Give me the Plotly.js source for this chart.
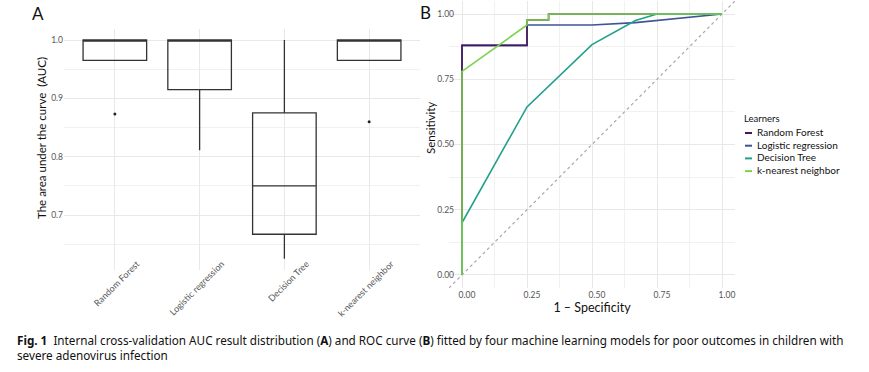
<!DOCTYPE html>
<html>
<head>
<meta charset="utf-8">
<script src="https://cdn.plot.ly/plotly-3.0.1.min.js"></script>
<style>html,body{margin:0;padding:0;background:#fff;}</style>
</head>
<body>
<div id="chart" style="width:869px;height:372px;"></div>
<script>
// ---------- Panel A: AUC distribution (box summaries) ----------
const learners = ['Random Forest', 'Logistic regression', 'Decision Tree', 'k-nearest neighbor'];
const aucQ1 = [0.965, 0.915, 0.667, 0.965];
const aucMedian = [1.0, 1.0, 0.75, 1.0];
const aucQ3 = [1.0, 1.0, 0.875, 1.0];
const aucLowerFence = [0.965, 0.811, 0.625, 0.965];
const aucUpperFence = [1.0, 1.0, 1.0, 1.0];
const outlierLearners = ['Random Forest', 'k-nearest neighbor'];
const outlierAUC = [0.873, 0.860];
const aucTicks = [0.7, 0.8, 0.9, 1.0];

// ---------- Panel B: ROC curves ----------
const rfFPR  = [0, 0, 0.25, 0.25, 0.333, 0.333, 1];
const rfTPR  = [0, 0.88, 0.88, 0.977, 0.977, 1, 1];
const lrFPR  = [0, 0, 0.25, 0.25, 0.5, 0.667, 1];
const lrTPR  = [0, 0.88, 0.88, 0.958, 0.958, 0.967, 1];
const dtFPR  = [0, 0, 0.25, 0.5, 0.667, 0.75, 1];
const dtTPR  = [0, 0.2, 0.644, 0.883, 0.975, 1, 1];
const knnFPR = [0, 0, 0.25, 0.25, 0.333, 0.333, 1];
const knnTPR = [0, 0.78, 0.958, 0.977, 0.977, 1, 1];
const rocTicks = [0, 0.25, 0.5, 0.75, 1];
const rocTickLabels = ['0.00', '0.25', '0.50', '0.75', '1.00'];
const learnerColors = ['#46165f', '#3d5597', '#22a08a', '#7cd250'];

const W = 869, H = 372;
const px = v => v / W;
const py = v => 1 - v / H;
const FONT = 'Lato, "Open Sans", sans-serif';
const TICKFONT = {family: FONT, size: 8.5, color: '#555555'};
const GRID = '#e8e8e8';
const MINORGRID = '#f1f1f1';

const rocSeries = [
  {name: learners[0], x: rfFPR, y: rfTPR, color: learnerColors[0]},
  {name: learners[1], x: lrFPR, y: lrTPR, color: learnerColors[1]},
  {name: learners[2], x: dtFPR, y: dtTPR, color: learnerColors[2]},
  {name: learners[3], x: knnFPR, y: knnTPR, color: learnerColors[3]}
];
// drawing order: Logistic regression beneath Random Forest
const drawOrder = [1, 0, 2, 3];

const traces = [
  {
    type: 'box', xaxis: 'x', yaxis: 'y',
    x: learners, q1: aucQ1, median: aucMedian, q3: aucQ3,
    lowerfence: aucLowerFence, upperfence: aucUpperFence,
    width: 0.75, whiskerwidth: 0, boxpoints: false,
    fillcolor: 'rgba(255,255,255,0)',
    line: {color: '#333333', width: 1.3},
    hoverinfo: 'skip', showlegend: false
  },
  {
    type: 'scatter', mode: 'markers', xaxis: 'x', yaxis: 'y',
    x: outlierLearners, y: outlierAUC,
    marker: {color: '#222222', size: 3},
    hoverinfo: 'skip', showlegend: false
  }
];
drawOrder.forEach(i => {
  const s = rocSeries[i];
  traces.push({
    type: 'scatter', mode: 'lines', xaxis: 'x2', yaxis: 'y2',
    x: s.x, y: s.y, name: s.name,
    line: {color: s.color, width: 1.6, shape: 'linear'},
    hoverinfo: 'skip', showlegend: false
  });
});

const rocRange = [-0.05, 1.05];

function note(text, x, y, font, extra) {
  return Object.assign({
    text: text, x: px(x), y: py(y), xref: 'paper', yref: 'paper',
    xanchor: 'center', yanchor: 'middle', showarrow: false, font: font
  }, extra || {});
}

const annotations = [
  note('A', 38, 14, {family: FONT, size: 17, color: '#111'}),
  note('B', 425, 13, {family: FONT, size: 17, color: '#111'}),
  note('The area under the curve  (AUC)', 41, 138, {family: FONT, size: 11.5, color: '#111'}, {textangle: -90}),
  note('Sensitivity', 430, 128, {family: FONT, size: 11.5, color: '#111'}, {textangle: -90}),
  note('Learners', 742, 119, {family: FONT, size: 9.5, color: '#111'}, {xanchor: 'left'}),
  note('<b>Fig. 1</b>  Internal cross-validation AUC result distribution (<b>A</b>) and ROC curve (<b>B</b>) fitted by four machine learning models for poor outcomes in children with<br>severe adenovirus infection',
       15, 347, {family: '"Noto Sans", "Liberation Sans", sans-serif', size: 11.7, color: '#111'}, {xanchor: 'left', align: 'left'})
];
const legendShapes = [];
rocSeries.forEach((s, i) => {
  const yy = 132 + i * 12.7;
  annotations.push(note(s.name, 755, yy, {family: FONT, size: 10, color: '#111'}, {xanchor: 'left'}));
  legendShapes.push({
    type: 'line', xref: 'paper', yref: 'paper',
    x0: px(745), x1: px(752), y0: py(yy + 1), y1: py(yy + 1),
    line: {color: s.color, width: 2}
  });
});

const layout = {
  width: W, height: H,
  margin: {l: 0, r: 0, t: 0, b: 0},
  paper_bgcolor: '#ffffff', plot_bgcolor: '#ffffff',
  showlegend: false,
  xaxis: {
    domain: [px(64), px(420)], anchor: 'y',
    type: 'category', categoryorder: 'array', categoryarray: learners,
    range: [-0.6, 3.6], showgrid: true, gridcolor: GRID, gridwidth: 1,
    zeroline: false, showline: false, ticks: '',
    tickangle: -45, tickfont: {family: FONT, size: 9, color: '#555555'},
    ticklabelshift: 22, ticklabelstandoff: -14
  },
  yaxis: {
    domain: [py(270), py(29)], anchor: 'x',
    range: [0.6057, 1.0189], tickvals: aucTicks, tickformat: '.1f',
    showgrid: true, gridcolor: GRID, gridwidth: 1,
    minor: {dtick: 0.05, tick0: 0, showgrid: true, gridcolor: MINORGRID, gridwidth: 1},
    zeroline: false, showline: false, ticks: '', tickfont: TICKFONT
  },
  xaxis2: {
    domain: [px(449), px(735)], anchor: 'y2',
    range: rocRange, tickvals: rocTicks, ticktext: rocTickLabels,
    showgrid: true, gridcolor: GRID, gridwidth: 1,
    minor: {dtick: 0.125, tick0: 0, showgrid: true, gridcolor: MINORGRID, gridwidth: 1},
    zeroline: false, showline: false, ticks: '', tickfont: TICKFONT, ticklabelshift: 5,
    title: {text: '1 – Specificity', font: {family: FONT, size: 12.5, color: '#111'}, standoff: 2}
  },
  yaxis2: {
    domain: [py(288), py(1)], anchor: 'x2',
    range: rocRange, tickvals: rocTicks, ticktext: rocTickLabels,
    showgrid: true, gridcolor: GRID, gridwidth: 1,
    minor: {dtick: 0.125, tick0: 0, showgrid: true, gridcolor: MINORGRID, gridwidth: 1},
    zeroline: false, showline: false, ticks: '', tickfont: TICKFONT, ticklabelstandoff: -6
  },
  shapes: [{
    type: 'line', xref: 'x2', yref: 'y2', layer: 'between',
    x0: rocRange[0], y0: rocRange[0], x1: rocRange[1], y1: rocRange[1],
    line: {color: '#aaaaaa', width: 1.2, dash: 'dot'}
  }].concat(legendShapes),
  annotations: annotations
};

Plotly.newPlot('chart', traces, layout, {staticPlot: true, displayModeBar: false});
</script>
</body>
</html>
